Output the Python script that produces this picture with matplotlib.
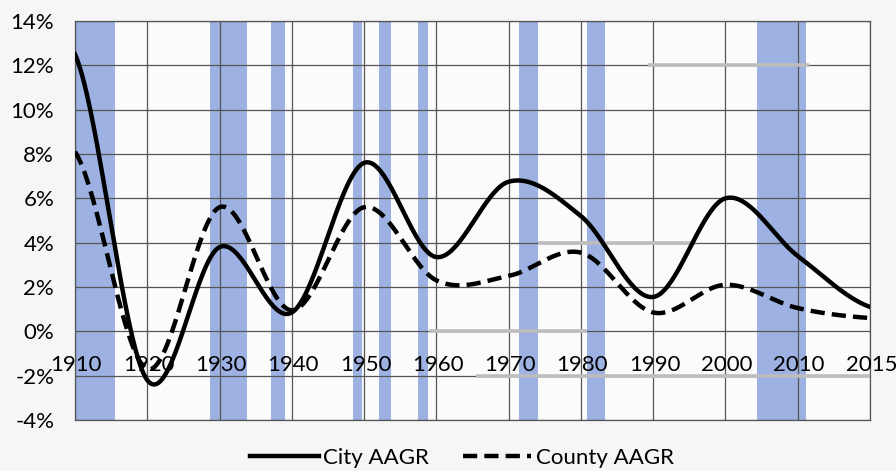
import matplotlib.pyplot as plt
import numpy as np

years = ["1910", "1920", "1930", "1940", "1950", "1960", "1970",
         "1980", "1990", "2000", "2010", "2015"]
city_aagr = [12.5, -2.2, 3.8, 0.85, 7.6, 3.35, 6.75, 5.2, 1.55, 6.0, 3.4, 1.1]
county_aagr = [8.1, -1.7, 5.6, 0.95, 5.6, 2.3, 2.5, 3.55, 0.85, 2.1, 1.05, 0.6]

# recession periods (start year, end year)
recessions = [(1910.1, 1915.5), (1928.7, 1933.8), (1937.1, 1939.0),
              (1948.5, 1949.7), (1952.1, 1953.7), (1957.5, 1958.8),
              (1971.4, 1974.0), (1980.8, 1983.3), (2004.3, 2010.55)]

# grey marker strokes: (y level, start year, end year)
marks = [(12, 1989.3, 2010.75), (4, 1974.0, 1995.8),
         (0, 1959.0, 1980.8), (-2, 1965.5, 2015.0)]

plt.rcParams['font.family'] = ['Lato', 'DejaVu Sans']
FS = 16


def year_pos(y):
    # category axis: decades up to 2010, then one 5-year step
    if y <= 2010:
        return (y - 1910) / 10
    return 10 + (y - 2010) / 5


def smooth(vals, n=40):
    # Bezier smoothing through the points (Excel-style smoothed line)
    p = np.array(vals, dtype=float)
    xs, ys = [], []
    for i in range(len(p) - 1):
        p0 = p[i - 1] if i > 0 else p[i]
        p3 = p[i + 2] if i + 2 < len(p) else p[i + 1]
        c1 = p[i] + (p[i + 1] - p0) / 6
        c2 = p[i + 1] - (p3 - p[i]) / 6
        t = np.linspace(0, 1, n)
        b = ((1 - t) ** 3 * p[i] + 3 * (1 - t) ** 2 * t * c1
             + 3 * (1 - t) * t ** 2 * c2 + t ** 3 * p[i + 1])
        xs.append(i + t)
        ys.append(b)
    return np.concatenate(xs), np.concatenate(ys)


fig = plt.figure(figsize=(8.96, 4.71), dpi=100, facecolor='#f6f6f6')
ax = fig.add_axes([75 / 896, 1 - 420 / 471, 795 / 896, 399 / 471])
ax.set_facecolor('#fbfbfb')

for a, b in recessions:
    ax.axvspan(year_pos(a), year_pos(b), color='#9db2e2', lw=0, zorder=1)

ax.set_xlim(0, len(years) - 1)
ax.set_ylim(-4, 14)
ax.set_yticks(np.arange(-4, 15, 2))
ax.set_yticklabels([f"{v}%" for v in range(-4, 15, 2)], fontsize=FS)
ax.set_xticks(range(len(years)))
ax.set_xticklabels([])
ax.tick_params(length=0, pad=15)
ax.grid(True, color='#555555', lw=0.9, zorder=2)
ax.set_axisbelow(False)
for s in ax.spines.values():
    s.set_color('#555555')
    s.set_linewidth(0.9)

for lvl, a, b in marks:
    ax.plot([year_pos(a), year_pos(b)], [lvl, lvl], color='#bdbdbd',
            lw=2.6, solid_capstyle='butt', zorder=3)

# year labels sit just above the -2% gridline
for i, lab in enumerate(years):
    ax.text(i + 0.02, -1.5, lab, ha='center', va='center', fontsize=FS,
            zorder=5)

x, y = smooth(city_aagr)
ax.plot(x, y, color='black', lw=3.2, label='City AAGR', zorder=4)
x, y = smooth(county_aagr)
ax.plot(x, y, color='black', lw=3.2, dashes=(3.2, 1.6), label='County AAGR',
        zorder=4)

fig.legend(loc='center', bbox_to_anchor=(462 / 896, 1 - 458 / 471), ncol=2,
           frameon=False, fontsize=FS, handlelength=3.1, handletextpad=0.2,
           columnspacing=1.5)

fig.savefig('out.png', dpi=100, facecolor=fig.get_facecolor())
